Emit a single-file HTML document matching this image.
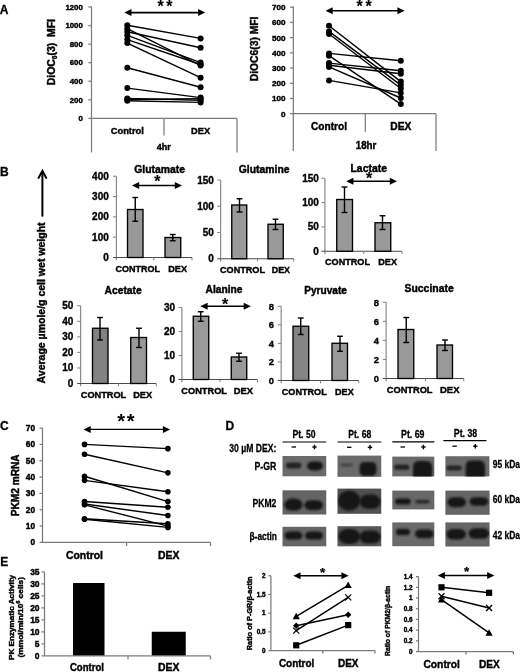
<!DOCTYPE html>
<html lang="en">
<head>
<meta charset="utf-8">
<title>Figure</title>
<style>
html,body{margin:0;padding:0;background:#fff;}
body{width:520px;height:672px;overflow:hidden;}
svg{display:block;font-family:"Liberation Sans", Arial, sans-serif;}
svg text{font-family:"Liberation Sans", Arial, sans-serif;}
</style>
</head>
<body>
<svg width="520" height="672" viewBox="0 0 520 672">
<defs>
<filter id="b1" x="-30%" y="-60%" width="160%" height="220%"><feGaussianBlur stdDeviation="1.3"/></filter>
</defs>
<rect x="0" y="0" width="520" height="672" fill="#fff"/>
<text x="-0.30" y="14.10" font-size="12" text-anchor="start" fill="#000" font-weight="bold" stroke="#000" stroke-width="0.3">A</text>
<text x="55.30" y="85.30" font-size="10.3" text-anchor="start" fill="#000" font-weight="bold" stroke="#000" stroke-width="0.42" textLength="66.30" lengthAdjust="spacingAndGlyphs" transform="rotate(-90 55.30 85.30)">DiOC<tspan font-size="6.5" dy="1.8">6</tspan><tspan dy="-1.8">(3)  MFI</tspan></text>
<line x1="91.50" y1="6.40" x2="91.50" y2="152.50" stroke="#7c7c7c" stroke-width="1.25" />
<line x1="88.30" y1="118.40" x2="237.00" y2="118.40" stroke="#7c7c7c" stroke-width="1.25" />
<line x1="237.00" y1="118.40" x2="237.00" y2="152.50" stroke="#7c7c7c" stroke-width="1.25" />
<line x1="164.00" y1="118.40" x2="164.00" y2="135.50" stroke="#7c7c7c" stroke-width="1.25" />
<text x="82.80" y="121.20" font-size="7.8" text-anchor="end" fill="#000" font-weight="bold" stroke="#000" stroke-width="0.42">0</text>
<line x1="88.30" y1="99.83" x2="91.50" y2="99.83" stroke="#7c7c7c" stroke-width="1.25" />
<text x="82.80" y="102.63" font-size="7.8" text-anchor="end" fill="#000" font-weight="bold" stroke="#000" stroke-width="0.42">200</text>
<line x1="88.30" y1="81.26" x2="91.50" y2="81.26" stroke="#7c7c7c" stroke-width="1.25" />
<text x="82.80" y="84.06" font-size="7.8" text-anchor="end" fill="#000" font-weight="bold" stroke="#000" stroke-width="0.42">400</text>
<line x1="88.30" y1="62.69" x2="91.50" y2="62.69" stroke="#7c7c7c" stroke-width="1.25" />
<text x="82.80" y="65.49" font-size="7.8" text-anchor="end" fill="#000" font-weight="bold" stroke="#000" stroke-width="0.42">600</text>
<line x1="88.30" y1="44.12" x2="91.50" y2="44.12" stroke="#7c7c7c" stroke-width="1.25" />
<text x="82.80" y="46.92" font-size="7.8" text-anchor="end" fill="#000" font-weight="bold" stroke="#000" stroke-width="0.42">800</text>
<line x1="88.30" y1="25.55" x2="91.50" y2="25.55" stroke="#7c7c7c" stroke-width="1.25" />
<text x="82.80" y="28.35" font-size="7.8" text-anchor="end" fill="#000" font-weight="bold" stroke="#000" stroke-width="0.42">1000</text>
<line x1="88.30" y1="6.98" x2="91.50" y2="6.98" stroke="#7c7c7c" stroke-width="1.25" />
<text x="82.80" y="9.78" font-size="7.8" text-anchor="end" fill="#000" font-weight="bold" stroke="#000" stroke-width="0.42">1200</text>
<line x1="127.30" y1="25.30" x2="200.60" y2="38.40" stroke="#000" stroke-width="1.4" />
<line x1="127.30" y1="28.70" x2="200.60" y2="65.60" stroke="#000" stroke-width="1.4" />
<line x1="127.30" y1="31.80" x2="200.60" y2="47.80" stroke="#000" stroke-width="1.4" />
<line x1="127.30" y1="35.30" x2="200.60" y2="62.60" stroke="#000" stroke-width="1.4" />
<line x1="127.30" y1="39.60" x2="200.60" y2="64.50" stroke="#000" stroke-width="1.4" />
<line x1="127.30" y1="43.10" x2="200.60" y2="77.70" stroke="#000" stroke-width="1.4" />
<line x1="127.30" y1="67.70" x2="200.60" y2="87.20" stroke="#000" stroke-width="1.4" />
<line x1="127.30" y1="88.10" x2="200.60" y2="97.60" stroke="#000" stroke-width="1.4" />
<line x1="127.30" y1="98.40" x2="200.60" y2="100.20" stroke="#000" stroke-width="1.4" />
<line x1="127.30" y1="100.70" x2="200.60" y2="102.40" stroke="#000" stroke-width="1.4" />
<line x1="127.30" y1="99.50" x2="200.60" y2="98.60" stroke="#000" stroke-width="1.4" />
<circle cx="127.30" cy="25.30" r="3" fill="#000"/>
<circle cx="200.60" cy="38.40" r="3" fill="#000"/>
<circle cx="127.30" cy="28.70" r="3" fill="#000"/>
<circle cx="200.60" cy="65.60" r="3" fill="#000"/>
<circle cx="127.30" cy="31.80" r="3" fill="#000"/>
<circle cx="200.60" cy="47.80" r="3" fill="#000"/>
<circle cx="127.30" cy="35.30" r="3" fill="#000"/>
<circle cx="200.60" cy="62.60" r="3" fill="#000"/>
<circle cx="127.30" cy="39.60" r="3" fill="#000"/>
<circle cx="200.60" cy="64.50" r="3" fill="#000"/>
<circle cx="127.30" cy="43.10" r="3" fill="#000"/>
<circle cx="200.60" cy="77.70" r="3" fill="#000"/>
<circle cx="127.30" cy="67.70" r="3" fill="#000"/>
<circle cx="200.60" cy="87.20" r="3" fill="#000"/>
<circle cx="127.30" cy="88.10" r="3" fill="#000"/>
<circle cx="200.60" cy="97.60" r="3" fill="#000"/>
<circle cx="127.30" cy="98.40" r="3" fill="#000"/>
<circle cx="200.60" cy="100.20" r="3" fill="#000"/>
<circle cx="127.30" cy="100.70" r="3" fill="#000"/>
<circle cx="200.60" cy="102.40" r="3" fill="#000"/>
<circle cx="127.30" cy="99.50" r="3" fill="#000"/>
<circle cx="200.60" cy="98.60" r="3" fill="#000"/>
<line x1="130.50" y1="12.60" x2="199.10" y2="12.60" stroke="#000" stroke-width="1.6" />
<polygon points="124.30,12.60 131.50,9.10 131.50,16.10" fill="#000"/>
<polygon points="205.30,12.60 198.10,9.10 198.10,16.10" fill="#000"/>
<text x="166.30" y="12.30" font-size="16" text-anchor="middle" fill="#000" font-weight="bold" stroke="#000" stroke-width="0.15" letter-spacing="2.6">**</text>
<text x="127.30" y="133.50" font-size="9.5" text-anchor="middle" fill="#000" font-weight="bold" stroke="#000" stroke-width="0.42" textLength="33.20" lengthAdjust="spacingAndGlyphs">Control</text>
<text x="200.60" y="133.50" font-size="9.5" text-anchor="middle" fill="#000" font-weight="bold" stroke="#000" stroke-width="0.42" textLength="19.00" lengthAdjust="spacingAndGlyphs">DEX</text>
<text x="163.80" y="150.30" font-size="9.5" text-anchor="middle" fill="#000" font-weight="bold" stroke="#000" stroke-width="0.42" textLength="14.00" lengthAdjust="spacingAndGlyphs">4hr</text>
<text x="258.00" y="81.30" font-size="10.3" text-anchor="start" fill="#000" font-weight="bold" stroke="#000" stroke-width="0.42" textLength="64.80" lengthAdjust="spacingAndGlyphs" transform="rotate(-90 258.00 81.30)">DiOC6(3) MFI</text>
<line x1="293.30" y1="6.40" x2="293.30" y2="151.00" stroke="#7c7c7c" stroke-width="1.25" />
<line x1="290.10" y1="113.70" x2="436.00" y2="113.70" stroke="#7c7c7c" stroke-width="1.25" />
<line x1="436.00" y1="113.70" x2="436.00" y2="151.00" stroke="#7c7c7c" stroke-width="1.25" />
<line x1="365.30" y1="113.70" x2="365.30" y2="132.00" stroke="#7c7c7c" stroke-width="1.25" />
<text x="285.60" y="116.60" font-size="8.1" text-anchor="end" fill="#000" font-weight="bold" stroke="#000" stroke-width="0.42">0</text>
<line x1="290.10" y1="98.49" x2="293.30" y2="98.49" stroke="#7c7c7c" stroke-width="1.25" />
<text x="285.60" y="101.39" font-size="8.1" text-anchor="end" fill="#000" font-weight="bold" stroke="#000" stroke-width="0.42">100</text>
<line x1="290.10" y1="83.28" x2="293.30" y2="83.28" stroke="#7c7c7c" stroke-width="1.25" />
<text x="285.60" y="86.18" font-size="8.1" text-anchor="end" fill="#000" font-weight="bold" stroke="#000" stroke-width="0.42">200</text>
<line x1="290.10" y1="68.07" x2="293.30" y2="68.07" stroke="#7c7c7c" stroke-width="1.25" />
<text x="285.60" y="70.97" font-size="8.1" text-anchor="end" fill="#000" font-weight="bold" stroke="#000" stroke-width="0.42">300</text>
<line x1="290.10" y1="52.86" x2="293.30" y2="52.86" stroke="#7c7c7c" stroke-width="1.25" />
<text x="285.60" y="55.76" font-size="8.1" text-anchor="end" fill="#000" font-weight="bold" stroke="#000" stroke-width="0.42">400</text>
<line x1="290.10" y1="37.65" x2="293.30" y2="37.65" stroke="#7c7c7c" stroke-width="1.25" />
<text x="285.60" y="40.55" font-size="8.1" text-anchor="end" fill="#000" font-weight="bold" stroke="#000" stroke-width="0.42">500</text>
<line x1="290.10" y1="22.44" x2="293.30" y2="22.44" stroke="#7c7c7c" stroke-width="1.25" />
<text x="285.60" y="25.34" font-size="8.1" text-anchor="end" fill="#000" font-weight="bold" stroke="#000" stroke-width="0.42">600</text>
<line x1="290.10" y1="7.23" x2="293.30" y2="7.23" stroke="#7c7c7c" stroke-width="1.25" />
<text x="285.60" y="10.13" font-size="8.1" text-anchor="end" fill="#000" font-weight="bold" stroke="#000" stroke-width="0.42">700</text>
<line x1="329.00" y1="25.70" x2="400.80" y2="81.60" stroke="#000" stroke-width="1.4" />
<line x1="329.00" y1="31.40" x2="400.80" y2="85.10" stroke="#000" stroke-width="1.4" />
<line x1="329.00" y1="34.00" x2="400.80" y2="88.50" stroke="#000" stroke-width="1.4" />
<line x1="329.00" y1="53.40" x2="400.80" y2="60.80" stroke="#000" stroke-width="1.4" />
<line x1="329.00" y1="55.70" x2="400.80" y2="104.10" stroke="#000" stroke-width="1.4" />
<line x1="329.00" y1="63.10" x2="400.80" y2="70.70" stroke="#000" stroke-width="1.4" />
<line x1="329.00" y1="65.20" x2="400.80" y2="73.80" stroke="#000" stroke-width="1.4" />
<line x1="329.00" y1="66.90" x2="400.80" y2="98.00" stroke="#000" stroke-width="1.4" />
<line x1="329.00" y1="80.40" x2="400.80" y2="92.90" stroke="#000" stroke-width="1.4" />
<circle cx="329.00" cy="25.70" r="3" fill="#000"/>
<circle cx="400.80" cy="81.60" r="3" fill="#000"/>
<circle cx="329.00" cy="31.40" r="3" fill="#000"/>
<circle cx="400.80" cy="85.10" r="3" fill="#000"/>
<circle cx="329.00" cy="34.00" r="3" fill="#000"/>
<circle cx="400.80" cy="88.50" r="3" fill="#000"/>
<circle cx="329.00" cy="53.40" r="3" fill="#000"/>
<circle cx="400.80" cy="60.80" r="3" fill="#000"/>
<circle cx="329.00" cy="55.70" r="3" fill="#000"/>
<circle cx="400.80" cy="104.10" r="3" fill="#000"/>
<circle cx="329.00" cy="63.10" r="3" fill="#000"/>
<circle cx="400.80" cy="70.70" r="3" fill="#000"/>
<circle cx="329.00" cy="65.20" r="3" fill="#000"/>
<circle cx="400.80" cy="73.80" r="3" fill="#000"/>
<circle cx="329.00" cy="66.90" r="3" fill="#000"/>
<circle cx="400.80" cy="98.00" r="3" fill="#000"/>
<circle cx="329.00" cy="80.40" r="3" fill="#000"/>
<circle cx="400.80" cy="92.90" r="3" fill="#000"/>
<line x1="331.70" y1="10.70" x2="398.40" y2="10.70" stroke="#000" stroke-width="1.6" />
<polygon points="325.50,10.70 332.70,7.20 332.70,14.20" fill="#000"/>
<polygon points="404.60,10.70 397.40,7.20 397.40,14.20" fill="#000"/>
<text x="365.60" y="11.70" font-size="16" text-anchor="middle" fill="#000" font-weight="bold" stroke="#000" stroke-width="0.15" letter-spacing="2.8">**</text>
<text x="329.00" y="129.50" font-size="10.3" text-anchor="middle" fill="#000" font-weight="bold" stroke="#000" stroke-width="0.42" textLength="36.00" lengthAdjust="spacingAndGlyphs">Control</text>
<text x="400.80" y="129.50" font-size="10.3" text-anchor="middle" fill="#000" font-weight="bold" stroke="#000" stroke-width="0.42" textLength="21.00" lengthAdjust="spacingAndGlyphs">DEX</text>
<text x="366.00" y="148.60" font-size="10.3" text-anchor="middle" fill="#000" font-weight="bold" stroke="#000" stroke-width="0.42" textLength="20.50" lengthAdjust="spacingAndGlyphs">18hr</text>
<text x="0.00" y="176.10" font-size="12" text-anchor="start" fill="#000" font-weight="bold" stroke="#000" stroke-width="0.3">B</text>
<line x1="42.40" y1="171.50" x2="42.40" y2="216.60" stroke="#000" stroke-width="2" />
<polyline points="38.2,178.6 42.4,170.8 46.6,178.6" fill="none" stroke="#000" stroke-width="2" stroke-linejoin="miter"/>
<text x="45.40" y="383.40" font-size="10.8" text-anchor="start" fill="#000" font-weight="bold" stroke="#000" stroke-width="0.42" textLength="161.00" lengthAdjust="spacingAndGlyphs" transform="rotate(-90 45.40 383.40)">Average µmole/g cell wet weight</text>
<text x="134.30" y="173.00" font-size="10.4" text-anchor="start" fill="#000" font-weight="bold" stroke="#000" stroke-width="0.42" textLength="50.70" lengthAdjust="spacingAndGlyphs">Glutamate</text>
<line x1="116.40" y1="176.25" x2="116.40" y2="260.30" stroke="#858585" stroke-width="1.15" />
<line x1="113.00" y1="257.50" x2="192.00" y2="257.50" stroke="#4a4a4a" stroke-width="1.1" />
<line x1="153.75" y1="257.50" x2="153.75" y2="260.30" stroke="#858585" stroke-width="1.1" />
<line x1="192.00" y1="257.50" x2="192.00" y2="260.30" stroke="#858585" stroke-width="1.1" />
<text x="108.80" y="261.00" font-size="10" text-anchor="end" fill="#000" font-weight="bold" stroke="#000" stroke-width="0.35">0</text>
<line x1="113.00" y1="237.19" x2="116.40" y2="237.19" stroke="#8a8a8a" stroke-width="1.1" />
<text x="108.80" y="240.69" font-size="10" text-anchor="end" fill="#000" font-weight="bold" stroke="#000" stroke-width="0.35">100</text>
<line x1="113.00" y1="216.88" x2="116.40" y2="216.88" stroke="#8a8a8a" stroke-width="1.1" />
<text x="108.80" y="220.38" font-size="10" text-anchor="end" fill="#000" font-weight="bold" stroke="#000" stroke-width="0.35">200</text>
<line x1="113.00" y1="196.56" x2="116.40" y2="196.56" stroke="#8a8a8a" stroke-width="1.1" />
<text x="108.80" y="200.06" font-size="10" text-anchor="end" fill="#000" font-weight="bold" stroke="#000" stroke-width="0.35">300</text>
<line x1="113.00" y1="176.25" x2="116.40" y2="176.25" stroke="#8a8a8a" stroke-width="1.1" />
<text x="108.80" y="179.75" font-size="10" text-anchor="end" fill="#000" font-weight="bold" stroke="#000" stroke-width="0.35">400</text>
<rect x="127.50" y="209.50" width="15.50" height="48.00" fill="#999" stroke="#000" stroke-width="1.35" />
<line x1="135.25" y1="197.50" x2="135.25" y2="221.25" stroke="#000" stroke-width="1.4" />
<line x1="132.35" y1="197.50" x2="138.15" y2="197.50" stroke="#000" stroke-width="1.4" />
<line x1="132.35" y1="221.25" x2="138.15" y2="221.25" stroke="#000" stroke-width="1.4" />
<rect x="165.00" y="237.50" width="15.75" height="20.00" fill="#999" stroke="#000" stroke-width="1.35" />
<line x1="172.75" y1="234.50" x2="172.75" y2="240.75" stroke="#000" stroke-width="1.4" />
<line x1="169.85" y1="234.50" x2="175.65" y2="234.50" stroke="#000" stroke-width="1.4" />
<line x1="169.85" y1="240.75" x2="175.65" y2="240.75" stroke="#000" stroke-width="1.4" />
<text x="115.50" y="272.00" font-size="9.7" text-anchor="start" fill="#000" font-weight="bold" stroke="#000" stroke-width="0.42" textLength="44.50" lengthAdjust="spacingAndGlyphs">CONTROL</text>
<text x="168.25" y="272.00" font-size="9.7" text-anchor="start" fill="#000" font-weight="bold" stroke="#000" stroke-width="0.42" textLength="18.75" lengthAdjust="spacingAndGlyphs">DEX</text>
<line x1="138.20" y1="185.50" x2="175.80" y2="185.50" stroke="#000" stroke-width="1.6" />
<polygon points="132.00,185.50 139.20,182.00 139.20,189.00" fill="#000"/>
<polygon points="182.00,185.50 174.80,182.00 174.80,189.00" fill="#000"/>
<text x="157.40" y="187.40" font-size="16" text-anchor="middle" fill="#000" font-weight="bold" stroke="#000" stroke-width="0.15">*</text>
<text x="238.75" y="172.50" font-size="10.4" text-anchor="start" fill="#000" font-weight="bold" stroke="#000" stroke-width="0.42" textLength="50.75" lengthAdjust="spacingAndGlyphs">Glutamine</text>
<line x1="220.65" y1="180.00" x2="220.65" y2="261.55" stroke="#858585" stroke-width="1.15" />
<line x1="217.25" y1="258.75" x2="293.75" y2="258.75" stroke="#4a4a4a" stroke-width="1.1" />
<line x1="257.50" y1="258.75" x2="257.50" y2="261.55" stroke="#858585" stroke-width="1.1" />
<line x1="293.75" y1="258.75" x2="293.75" y2="261.55" stroke="#858585" stroke-width="1.1" />
<text x="213.90" y="262.25" font-size="10" text-anchor="end" fill="#000" font-weight="bold" stroke="#000" stroke-width="0.35">0</text>
<line x1="217.25" y1="232.50" x2="220.65" y2="232.50" stroke="#8a8a8a" stroke-width="1.1" />
<text x="213.90" y="236.00" font-size="10" text-anchor="end" fill="#000" font-weight="bold" stroke="#000" stroke-width="0.35">50</text>
<line x1="217.25" y1="206.25" x2="220.65" y2="206.25" stroke="#8a8a8a" stroke-width="1.1" />
<text x="213.90" y="209.75" font-size="10" text-anchor="end" fill="#000" font-weight="bold" stroke="#000" stroke-width="0.35">100</text>
<line x1="217.25" y1="180.00" x2="220.65" y2="180.00" stroke="#8a8a8a" stroke-width="1.1" />
<text x="213.90" y="183.50" font-size="10" text-anchor="end" fill="#000" font-weight="bold" stroke="#000" stroke-width="0.35">150</text>
<rect x="231.75" y="205.00" width="15.00" height="53.75" fill="#999" stroke="#000" stroke-width="1.35" />
<line x1="239.50" y1="198.75" x2="239.50" y2="212.00" stroke="#000" stroke-width="1.4" />
<line x1="236.60" y1="198.75" x2="242.40" y2="198.75" stroke="#000" stroke-width="1.4" />
<line x1="236.60" y1="212.00" x2="242.40" y2="212.00" stroke="#000" stroke-width="1.4" />
<rect x="268.00" y="224.25" width="15.25" height="34.50" fill="#999" stroke="#000" stroke-width="1.35" />
<line x1="275.50" y1="219.25" x2="275.50" y2="229.50" stroke="#000" stroke-width="1.4" />
<line x1="272.60" y1="219.25" x2="278.40" y2="219.25" stroke="#000" stroke-width="1.4" />
<line x1="272.60" y1="229.50" x2="278.40" y2="229.50" stroke="#000" stroke-width="1.4" />
<text x="220.00" y="272.50" font-size="9.7" text-anchor="start" fill="#000" font-weight="bold" stroke="#000" stroke-width="0.42" textLength="45.00" lengthAdjust="spacingAndGlyphs">CONTROL</text>
<text x="271.75" y="272.50" font-size="9.7" text-anchor="start" fill="#000" font-weight="bold" stroke="#000" stroke-width="0.42" textLength="18.25" lengthAdjust="spacingAndGlyphs">DEX</text>
<text x="350.50" y="172.00" font-size="10.4" text-anchor="start" fill="#000" font-weight="bold" stroke="#000" stroke-width="0.42" textLength="36.50" lengthAdjust="spacingAndGlyphs">Lactate</text>
<line x1="324.90" y1="178.25" x2="324.90" y2="254.05" stroke="#858585" stroke-width="1.15" />
<line x1="321.50" y1="251.25" x2="402.00" y2="251.25" stroke="#4a4a4a" stroke-width="1.1" />
<line x1="363.75" y1="251.25" x2="363.75" y2="254.05" stroke="#858585" stroke-width="1.1" />
<line x1="402.00" y1="251.25" x2="402.00" y2="254.05" stroke="#858585" stroke-width="1.1" />
<text x="318.90" y="254.75" font-size="10" text-anchor="end" fill="#000" font-weight="bold" stroke="#000" stroke-width="0.35">0</text>
<line x1="321.50" y1="226.92" x2="324.90" y2="226.92" stroke="#8a8a8a" stroke-width="1.1" />
<text x="318.90" y="230.42" font-size="10" text-anchor="end" fill="#000" font-weight="bold" stroke="#000" stroke-width="0.35">50</text>
<line x1="321.50" y1="202.58" x2="324.90" y2="202.58" stroke="#8a8a8a" stroke-width="1.1" />
<text x="318.90" y="206.08" font-size="10" text-anchor="end" fill="#000" font-weight="bold" stroke="#000" stroke-width="0.35">100</text>
<line x1="321.50" y1="178.25" x2="324.90" y2="178.25" stroke="#8a8a8a" stroke-width="1.1" />
<text x="318.90" y="181.75" font-size="10" text-anchor="end" fill="#000" font-weight="bold" stroke="#000" stroke-width="0.35">150</text>
<rect x="336.75" y="199.50" width="15.75" height="51.75" fill="#999" stroke="#000" stroke-width="1.35" />
<line x1="344.50" y1="187.00" x2="344.50" y2="212.50" stroke="#000" stroke-width="1.4" />
<line x1="341.60" y1="187.00" x2="347.40" y2="187.00" stroke="#000" stroke-width="1.4" />
<line x1="341.60" y1="212.50" x2="347.40" y2="212.50" stroke="#000" stroke-width="1.4" />
<rect x="375.00" y="222.75" width="15.75" height="28.50" fill="#999" stroke="#000" stroke-width="1.35" />
<line x1="382.50" y1="215.75" x2="382.50" y2="229.50" stroke="#000" stroke-width="1.4" />
<line x1="379.60" y1="215.75" x2="385.40" y2="215.75" stroke="#000" stroke-width="1.4" />
<line x1="379.60" y1="229.50" x2="385.40" y2="229.50" stroke="#000" stroke-width="1.4" />
<text x="325.00" y="265.00" font-size="9.7" text-anchor="start" fill="#000" font-weight="bold" stroke="#000" stroke-width="0.42" textLength="45.00" lengthAdjust="spacingAndGlyphs">CONTROL</text>
<text x="378.25" y="265.00" font-size="9.7" text-anchor="start" fill="#000" font-weight="bold" stroke="#000" stroke-width="0.42" textLength="18.75" lengthAdjust="spacingAndGlyphs">DEX</text>
<line x1="352.45" y1="181.25" x2="390.80" y2="181.25" stroke="#000" stroke-width="1.6" />
<polygon points="346.25,181.25 353.45,177.75 353.45,184.75" fill="#000"/>
<polygon points="397.00,181.25 389.80,177.75 389.80,184.75" fill="#000"/>
<text x="369.20" y="183.50" font-size="16" text-anchor="middle" fill="#000" font-weight="bold" stroke="#000" stroke-width="0.15">*</text>
<text x="104.50" y="294.25" font-size="10.4" text-anchor="start" fill="#000" font-weight="bold" stroke="#000" stroke-width="0.42" textLength="37.25" lengthAdjust="spacingAndGlyphs">Acetate</text>
<line x1="80.65" y1="305.75" x2="80.65" y2="386.30" stroke="#858585" stroke-width="1.15" />
<line x1="77.25" y1="383.50" x2="156.25" y2="383.50" stroke="#4a4a4a" stroke-width="1.1" />
<line x1="118.50" y1="383.50" x2="118.50" y2="386.30" stroke="#858585" stroke-width="1.1" />
<line x1="156.25" y1="383.50" x2="156.25" y2="386.30" stroke="#858585" stroke-width="1.1" />
<text x="73.40" y="387.00" font-size="10" text-anchor="end" fill="#000" font-weight="bold" stroke="#000" stroke-width="0.35">0</text>
<line x1="77.25" y1="367.95" x2="80.65" y2="367.95" stroke="#8a8a8a" stroke-width="1.1" />
<text x="73.40" y="371.45" font-size="10" text-anchor="end" fill="#000" font-weight="bold" stroke="#000" stroke-width="0.35">10</text>
<line x1="77.25" y1="352.40" x2="80.65" y2="352.40" stroke="#8a8a8a" stroke-width="1.1" />
<text x="73.40" y="355.90" font-size="10" text-anchor="end" fill="#000" font-weight="bold" stroke="#000" stroke-width="0.35">20</text>
<line x1="77.25" y1="336.85" x2="80.65" y2="336.85" stroke="#8a8a8a" stroke-width="1.1" />
<text x="73.40" y="340.35" font-size="10" text-anchor="end" fill="#000" font-weight="bold" stroke="#000" stroke-width="0.35">30</text>
<line x1="77.25" y1="321.30" x2="80.65" y2="321.30" stroke="#8a8a8a" stroke-width="1.1" />
<text x="73.40" y="324.80" font-size="10" text-anchor="end" fill="#000" font-weight="bold" stroke="#000" stroke-width="0.35">40</text>
<line x1="77.25" y1="305.75" x2="80.65" y2="305.75" stroke="#8a8a8a" stroke-width="1.1" />
<text x="73.40" y="309.25" font-size="10" text-anchor="end" fill="#000" font-weight="bold" stroke="#000" stroke-width="0.35">50</text>
<rect x="92.50" y="328.25" width="15.50" height="55.25" fill="#828282" stroke="#000" stroke-width="1.35" />
<line x1="100.00" y1="317.50" x2="100.00" y2="340.00" stroke="#000" stroke-width="1.4" />
<line x1="97.10" y1="317.50" x2="102.90" y2="317.50" stroke="#000" stroke-width="1.4" />
<line x1="97.10" y1="340.00" x2="102.90" y2="340.00" stroke="#000" stroke-width="1.4" />
<rect x="130.75" y="337.50" width="15.75" height="46.00" fill="#999" stroke="#000" stroke-width="1.35" />
<line x1="139.00" y1="328.25" x2="139.00" y2="347.50" stroke="#000" stroke-width="1.4" />
<line x1="136.10" y1="328.25" x2="141.90" y2="328.25" stroke="#000" stroke-width="1.4" />
<line x1="136.10" y1="347.50" x2="141.90" y2="347.50" stroke="#000" stroke-width="1.4" />
<text x="80.75" y="398.00" font-size="9.7" text-anchor="start" fill="#000" font-weight="bold" stroke="#000" stroke-width="0.42" textLength="45.50" lengthAdjust="spacingAndGlyphs">CONTROL</text>
<text x="133.25" y="398.00" font-size="9.7" text-anchor="start" fill="#000" font-weight="bold" stroke="#000" stroke-width="0.42" textLength="18.75" lengthAdjust="spacingAndGlyphs">DEX</text>
<text x="205.50" y="293.10" font-size="10.4" text-anchor="start" fill="#000" font-weight="bold" stroke="#000" stroke-width="0.42" textLength="37.00" lengthAdjust="spacingAndGlyphs">Alanine</text>
<line x1="181.90" y1="307.50" x2="181.90" y2="382.30" stroke="#858585" stroke-width="1.15" />
<line x1="178.50" y1="379.50" x2="257.50" y2="379.50" stroke="#4a4a4a" stroke-width="1.1" />
<line x1="220.00" y1="379.50" x2="220.00" y2="382.30" stroke="#858585" stroke-width="1.1" />
<line x1="257.50" y1="379.50" x2="257.50" y2="382.30" stroke="#858585" stroke-width="1.1" />
<text x="175.10" y="383.00" font-size="10" text-anchor="end" fill="#000" font-weight="bold" stroke="#000" stroke-width="0.35">0</text>
<line x1="178.50" y1="355.50" x2="181.90" y2="355.50" stroke="#8a8a8a" stroke-width="1.1" />
<text x="175.10" y="359.00" font-size="10" text-anchor="end" fill="#000" font-weight="bold" stroke="#000" stroke-width="0.35">10</text>
<line x1="178.50" y1="331.50" x2="181.90" y2="331.50" stroke="#8a8a8a" stroke-width="1.1" />
<text x="175.10" y="335.00" font-size="10" text-anchor="end" fill="#000" font-weight="bold" stroke="#000" stroke-width="0.35">20</text>
<line x1="178.50" y1="307.50" x2="181.90" y2="307.50" stroke="#8a8a8a" stroke-width="1.1" />
<text x="175.10" y="311.00" font-size="10" text-anchor="end" fill="#000" font-weight="bold" stroke="#000" stroke-width="0.35">30</text>
<rect x="193.25" y="316.25" width="15.50" height="63.25" fill="#999" stroke="#000" stroke-width="1.35" />
<line x1="200.75" y1="311.75" x2="200.75" y2="321.25" stroke="#000" stroke-width="1.4" />
<line x1="197.85" y1="311.75" x2="203.65" y2="311.75" stroke="#000" stroke-width="1.4" />
<line x1="197.85" y1="321.25" x2="203.65" y2="321.25" stroke="#000" stroke-width="1.4" />
<rect x="231.25" y="357.00" width="15.50" height="22.50" fill="#999" stroke="#000" stroke-width="1.35" />
<line x1="239.00" y1="353.25" x2="239.00" y2="361.25" stroke="#000" stroke-width="1.4" />
<line x1="236.10" y1="353.25" x2="241.90" y2="353.25" stroke="#000" stroke-width="1.4" />
<line x1="236.10" y1="361.25" x2="241.90" y2="361.25" stroke="#000" stroke-width="1.4" />
<text x="181.25" y="393.75" font-size="9.7" text-anchor="start" fill="#000" font-weight="bold" stroke="#000" stroke-width="0.42" textLength="45.75" lengthAdjust="spacingAndGlyphs">CONTROL</text>
<text x="233.75" y="393.75" font-size="9.7" text-anchor="start" fill="#000" font-weight="bold" stroke="#000" stroke-width="0.42" textLength="19.25" lengthAdjust="spacingAndGlyphs">DEX</text>
<line x1="206.60" y1="306.30" x2="244.70" y2="306.30" stroke="#000" stroke-width="1.6" />
<polygon points="200.40,306.30 207.60,302.80 207.60,309.80" fill="#000"/>
<polygon points="250.90,306.30 243.70,302.80 243.70,309.80" fill="#000"/>
<text x="225.20" y="309.60" font-size="16" text-anchor="middle" fill="#000" font-weight="bold" stroke="#000" stroke-width="0.15">*</text>
<text x="304.25" y="293.75" font-size="10.4" text-anchor="start" fill="#000" font-weight="bold" stroke="#000" stroke-width="0.42" textLength="42.75" lengthAdjust="spacingAndGlyphs">Pyruvate</text>
<line x1="281.15" y1="306.25" x2="281.15" y2="383.30" stroke="#858585" stroke-width="1.15" />
<line x1="277.75" y1="380.50" x2="358.75" y2="380.50" stroke="#4a4a4a" stroke-width="1.1" />
<line x1="320.50" y1="380.50" x2="320.50" y2="383.30" stroke="#858585" stroke-width="1.1" />
<line x1="358.75" y1="380.50" x2="358.75" y2="383.30" stroke="#858585" stroke-width="1.1" />
<text x="273.90" y="384.00" font-size="9.4" text-anchor="end" fill="#000" font-weight="bold" stroke="#000" stroke-width="0.35">0</text>
<line x1="277.75" y1="361.94" x2="281.15" y2="361.94" stroke="#8a8a8a" stroke-width="1.1" />
<text x="273.90" y="365.44" font-size="9.4" text-anchor="end" fill="#000" font-weight="bold" stroke="#000" stroke-width="0.35">2</text>
<line x1="277.75" y1="343.38" x2="281.15" y2="343.38" stroke="#8a8a8a" stroke-width="1.1" />
<text x="273.90" y="346.88" font-size="9.4" text-anchor="end" fill="#000" font-weight="bold" stroke="#000" stroke-width="0.35">4</text>
<line x1="277.75" y1="324.81" x2="281.15" y2="324.81" stroke="#8a8a8a" stroke-width="1.1" />
<text x="273.90" y="328.31" font-size="9.4" text-anchor="end" fill="#000" font-weight="bold" stroke="#000" stroke-width="0.35">6</text>
<line x1="277.75" y1="306.25" x2="281.15" y2="306.25" stroke="#8a8a8a" stroke-width="1.1" />
<text x="273.90" y="309.75" font-size="9.4" text-anchor="end" fill="#000" font-weight="bold" stroke="#000" stroke-width="0.35">8</text>
<rect x="293.00" y="326.25" width="15.75" height="54.25" fill="#858585" stroke="#000" stroke-width="1.35" />
<line x1="300.75" y1="318.00" x2="300.75" y2="334.50" stroke="#000" stroke-width="1.4" />
<line x1="297.85" y1="318.00" x2="303.65" y2="318.00" stroke="#000" stroke-width="1.4" />
<line x1="297.85" y1="334.50" x2="303.65" y2="334.50" stroke="#000" stroke-width="1.4" />
<rect x="332.00" y="343.25" width="15.50" height="37.25" fill="#999" stroke="#000" stroke-width="1.35" />
<line x1="340.00" y1="336.25" x2="340.00" y2="351.25" stroke="#000" stroke-width="1.4" />
<line x1="337.10" y1="336.25" x2="342.90" y2="336.25" stroke="#000" stroke-width="1.4" />
<line x1="337.10" y1="351.25" x2="342.90" y2="351.25" stroke="#000" stroke-width="1.4" />
<text x="281.75" y="394.50" font-size="9.7" text-anchor="start" fill="#000" font-weight="bold" stroke="#000" stroke-width="0.42" textLength="45.00" lengthAdjust="spacingAndGlyphs">CONTROL</text>
<text x="335.00" y="394.50" font-size="9.7" text-anchor="start" fill="#000" font-weight="bold" stroke="#000" stroke-width="0.42" textLength="18.75" lengthAdjust="spacingAndGlyphs">DEX</text>
<text x="404.50" y="292.00" font-size="10.4" text-anchor="start" fill="#000" font-weight="bold" stroke="#000" stroke-width="0.42" textLength="49.25" lengthAdjust="spacingAndGlyphs">Succinate</text>
<line x1="386.15" y1="302.25" x2="386.15" y2="381.30" stroke="#858585" stroke-width="1.15" />
<line x1="382.75" y1="378.50" x2="463.75" y2="378.50" stroke="#4a4a4a" stroke-width="1.1" />
<line x1="425.50" y1="378.50" x2="425.50" y2="381.30" stroke="#858585" stroke-width="1.1" />
<line x1="463.75" y1="378.50" x2="463.75" y2="381.30" stroke="#858585" stroke-width="1.1" />
<text x="378.90" y="382.00" font-size="9.4" text-anchor="end" fill="#000" font-weight="bold" stroke="#000" stroke-width="0.35">0</text>
<line x1="382.75" y1="359.44" x2="386.15" y2="359.44" stroke="#8a8a8a" stroke-width="1.1" />
<text x="378.90" y="362.94" font-size="9.4" text-anchor="end" fill="#000" font-weight="bold" stroke="#000" stroke-width="0.35">2</text>
<line x1="382.75" y1="340.38" x2="386.15" y2="340.38" stroke="#8a8a8a" stroke-width="1.1" />
<text x="378.90" y="343.88" font-size="9.4" text-anchor="end" fill="#000" font-weight="bold" stroke="#000" stroke-width="0.35">4</text>
<line x1="382.75" y1="321.31" x2="386.15" y2="321.31" stroke="#8a8a8a" stroke-width="1.1" />
<text x="378.90" y="324.81" font-size="9.4" text-anchor="end" fill="#000" font-weight="bold" stroke="#000" stroke-width="0.35">6</text>
<line x1="382.75" y1="302.25" x2="386.15" y2="302.25" stroke="#8a8a8a" stroke-width="1.1" />
<text x="378.90" y="305.75" font-size="9.4" text-anchor="end" fill="#000" font-weight="bold" stroke="#000" stroke-width="0.35">8</text>
<rect x="398.00" y="329.50" width="15.75" height="49.00" fill="#999" stroke="#000" stroke-width="1.35" />
<line x1="406.25" y1="317.50" x2="406.25" y2="342.50" stroke="#000" stroke-width="1.4" />
<line x1="403.35" y1="317.50" x2="409.15" y2="317.50" stroke="#000" stroke-width="1.4" />
<line x1="403.35" y1="342.50" x2="409.15" y2="342.50" stroke="#000" stroke-width="1.4" />
<rect x="437.00" y="345.00" width="15.50" height="33.50" fill="#999" stroke="#000" stroke-width="1.35" />
<line x1="445.00" y1="340.00" x2="445.00" y2="350.50" stroke="#000" stroke-width="1.4" />
<line x1="442.10" y1="340.00" x2="447.90" y2="340.00" stroke="#000" stroke-width="1.4" />
<line x1="442.10" y1="350.50" x2="447.90" y2="350.50" stroke="#000" stroke-width="1.4" />
<text x="386.75" y="392.50" font-size="9.7" text-anchor="start" fill="#000" font-weight="bold" stroke="#000" stroke-width="0.42" textLength="45.75" lengthAdjust="spacingAndGlyphs">CONTROL</text>
<text x="440.00" y="392.50" font-size="9.7" text-anchor="start" fill="#000" font-weight="bold" stroke="#000" stroke-width="0.42" textLength="19.50" lengthAdjust="spacingAndGlyphs">DEX</text>
<text x="0.00" y="429.50" font-size="12" text-anchor="start" fill="#000" font-weight="bold" stroke="#000" stroke-width="0.3">C</text>
<text x="18.70" y="516.30" font-size="10.2" text-anchor="start" fill="#000" font-weight="bold" stroke="#000" stroke-width="0.42" textLength="62.00" lengthAdjust="spacingAndGlyphs" transform="rotate(-90 18.70 516.30)">PKM2 mRNA</text>
<line x1="42.50" y1="428.00" x2="42.50" y2="542.40" stroke="#7c7c7c" stroke-width="1.25" />
<line x1="39.50" y1="542.40" x2="210.50" y2="542.40" stroke="#7c7c7c" stroke-width="1.25" />
<line x1="126.60" y1="542.40" x2="126.60" y2="546.00" stroke="#7c7c7c" stroke-width="1.25" />
<line x1="210.50" y1="542.40" x2="210.50" y2="546.00" stroke="#7c7c7c" stroke-width="1.25" />
<text x="35.20" y="545.40" font-size="8.4" text-anchor="end" fill="#000" font-weight="bold" stroke="#000" stroke-width="0.42">0</text>
<line x1="39.50" y1="526.07" x2="42.50" y2="526.07" stroke="#7c7c7c" stroke-width="1.25" />
<text x="35.20" y="529.07" font-size="8.4" text-anchor="end" fill="#000" font-weight="bold" stroke="#000" stroke-width="0.42">10</text>
<line x1="39.50" y1="509.74" x2="42.50" y2="509.74" stroke="#7c7c7c" stroke-width="1.25" />
<text x="35.20" y="512.74" font-size="8.4" text-anchor="end" fill="#000" font-weight="bold" stroke="#000" stroke-width="0.42">20</text>
<line x1="39.50" y1="493.41" x2="42.50" y2="493.41" stroke="#7c7c7c" stroke-width="1.25" />
<text x="35.20" y="496.41" font-size="8.4" text-anchor="end" fill="#000" font-weight="bold" stroke="#000" stroke-width="0.42">30</text>
<line x1="39.50" y1="477.08" x2="42.50" y2="477.08" stroke="#7c7c7c" stroke-width="1.25" />
<text x="35.20" y="480.08" font-size="8.4" text-anchor="end" fill="#000" font-weight="bold" stroke="#000" stroke-width="0.42">40</text>
<line x1="39.50" y1="460.75" x2="42.50" y2="460.75" stroke="#7c7c7c" stroke-width="1.25" />
<text x="35.20" y="463.75" font-size="8.4" text-anchor="end" fill="#000" font-weight="bold" stroke="#000" stroke-width="0.42">50</text>
<line x1="39.50" y1="444.42" x2="42.50" y2="444.42" stroke="#7c7c7c" stroke-width="1.25" />
<text x="35.20" y="447.42" font-size="8.4" text-anchor="end" fill="#000" font-weight="bold" stroke="#000" stroke-width="0.42">60</text>
<line x1="39.50" y1="428.09" x2="42.50" y2="428.09" stroke="#7c7c7c" stroke-width="1.25" />
<text x="35.20" y="431.09" font-size="8.4" text-anchor="end" fill="#000" font-weight="bold" stroke="#000" stroke-width="0.42">70</text>
<line x1="84.50" y1="444.42" x2="167.90" y2="448.67" stroke="#000" stroke-width="1.4" />
<line x1="84.50" y1="454.22" x2="167.90" y2="472.83" stroke="#000" stroke-width="1.4" />
<line x1="84.50" y1="476.26" x2="167.90" y2="501.57" stroke="#000" stroke-width="1.4" />
<line x1="84.50" y1="480.35" x2="167.90" y2="491.78" stroke="#000" stroke-width="1.4" />
<line x1="84.50" y1="501.57" x2="167.90" y2="507.29" stroke="#000" stroke-width="1.4" />
<line x1="84.50" y1="504.02" x2="167.90" y2="515.46" stroke="#000" stroke-width="1.4" />
<line x1="84.50" y1="504.84" x2="167.90" y2="526.07" stroke="#000" stroke-width="1.4" />
<line x1="84.50" y1="518.72" x2="167.90" y2="523.78" stroke="#000" stroke-width="1.4" />
<line x1="84.50" y1="519.21" x2="167.90" y2="527.38" stroke="#000" stroke-width="1.4" />
<circle cx="84.50" cy="444.42" r="2.8" fill="#000"/>
<circle cx="167.90" cy="448.67" r="2.8" fill="#000"/>
<circle cx="84.50" cy="454.22" r="2.8" fill="#000"/>
<circle cx="167.90" cy="472.83" r="2.8" fill="#000"/>
<circle cx="84.50" cy="476.26" r="2.8" fill="#000"/>
<circle cx="167.90" cy="501.57" r="2.8" fill="#000"/>
<circle cx="84.50" cy="480.35" r="2.8" fill="#000"/>
<circle cx="167.90" cy="491.78" r="2.8" fill="#000"/>
<circle cx="84.50" cy="501.57" r="2.8" fill="#000"/>
<circle cx="167.90" cy="507.29" r="2.8" fill="#000"/>
<circle cx="84.50" cy="504.02" r="2.8" fill="#000"/>
<circle cx="167.90" cy="515.46" r="2.8" fill="#000"/>
<circle cx="84.50" cy="504.84" r="2.8" fill="#000"/>
<circle cx="167.90" cy="526.07" r="2.8" fill="#000"/>
<circle cx="84.50" cy="518.72" r="2.8" fill="#000"/>
<circle cx="167.90" cy="523.78" r="2.8" fill="#000"/>
<circle cx="84.50" cy="519.21" r="2.8" fill="#000"/>
<circle cx="167.90" cy="527.38" r="2.8" fill="#000"/>
<line x1="89.70" y1="429.40" x2="163.90" y2="429.40" stroke="#000" stroke-width="1.4" />
<polygon points="83.50,429.40 90.70,425.90 90.70,432.90" fill="#000"/>
<polygon points="170.10,429.40 162.90,425.90 162.90,432.90" fill="#000"/>
<text x="126.80" y="428.30" font-size="20" text-anchor="middle" fill="#000" font-weight="bold" stroke="#000" stroke-width="0" letter-spacing="1.7">**</text>
<text x="84.50" y="558.70" font-size="10.4" text-anchor="middle" fill="#000" font-weight="bold" stroke="#000" stroke-width="0.42" textLength="37.00" lengthAdjust="spacingAndGlyphs">Control</text>
<text x="168.70" y="558.70" font-size="10.4" text-anchor="middle" fill="#000" font-weight="bold" stroke="#000" stroke-width="0.42" textLength="21.40" lengthAdjust="spacingAndGlyphs">DEX</text>
<text x="0.30" y="566.00" font-size="12" text-anchor="start" fill="#000" font-weight="bold" stroke="#000" stroke-width="0.3">E</text>
<text x="14.20" y="660.00" font-size="8" text-anchor="start" fill="#000" font-weight="bold" stroke="#000" stroke-width="0.42" textLength="85.00" lengthAdjust="spacingAndGlyphs" transform="rotate(-90 14.20 660.00)">PK Enzymatic Activity</text>
<text x="23.40" y="657.50" font-size="8" text-anchor="start" fill="#000" font-weight="bold" stroke="#000" stroke-width="0.42" textLength="80.50" lengthAdjust="spacingAndGlyphs" transform="rotate(-90 23.40 657.50)">(mmol/min/10<tspan font-size="5" dy="-3">6</tspan><tspan dy="3"> cells)</tspan></text>
<rect x="73.00" y="583.00" width="31.50" height="72.90" fill="#000" stroke="none" stroke-width="1" />
<rect x="151.75" y="631.75" width="34.00" height="24.15" fill="#000" stroke="none" stroke-width="1" />
<line x1="44.50" y1="572.00" x2="44.50" y2="655.90" stroke="#7c7c7c" stroke-width="1.25" />
<line x1="41.50" y1="655.90" x2="210.50" y2="655.90" stroke="#7c7c7c" stroke-width="1.25" />
<line x1="128.00" y1="655.90" x2="128.00" y2="659.30" stroke="#7c7c7c" stroke-width="1.25" />
<line x1="210.50" y1="655.90" x2="210.50" y2="659.30" stroke="#7c7c7c" stroke-width="1.25" />
<text x="39.60" y="658.90" font-size="8.5" text-anchor="end" fill="#000" font-weight="bold" stroke="#000" stroke-width="0.42">0</text>
<line x1="41.50" y1="643.90" x2="44.50" y2="643.90" stroke="#7c7c7c" stroke-width="1.25" />
<text x="39.60" y="646.90" font-size="8.5" text-anchor="end" fill="#000" font-weight="bold" stroke="#000" stroke-width="0.42">5</text>
<line x1="41.50" y1="631.90" x2="44.50" y2="631.90" stroke="#7c7c7c" stroke-width="1.25" />
<text x="39.60" y="634.90" font-size="8.5" text-anchor="end" fill="#000" font-weight="bold" stroke="#000" stroke-width="0.42">10</text>
<line x1="41.50" y1="619.90" x2="44.50" y2="619.90" stroke="#7c7c7c" stroke-width="1.25" />
<text x="39.60" y="622.90" font-size="8.5" text-anchor="end" fill="#000" font-weight="bold" stroke="#000" stroke-width="0.42">15</text>
<line x1="41.50" y1="607.90" x2="44.50" y2="607.90" stroke="#7c7c7c" stroke-width="1.25" />
<text x="39.60" y="610.90" font-size="8.5" text-anchor="end" fill="#000" font-weight="bold" stroke="#000" stroke-width="0.42">20</text>
<line x1="41.50" y1="595.90" x2="44.50" y2="595.90" stroke="#7c7c7c" stroke-width="1.25" />
<text x="39.60" y="598.90" font-size="8.5" text-anchor="end" fill="#000" font-weight="bold" stroke="#000" stroke-width="0.42">25</text>
<line x1="41.50" y1="583.90" x2="44.50" y2="583.90" stroke="#7c7c7c" stroke-width="1.25" />
<text x="39.60" y="586.90" font-size="8.5" text-anchor="end" fill="#000" font-weight="bold" stroke="#000" stroke-width="0.42">30</text>
<line x1="41.50" y1="571.90" x2="44.50" y2="571.90" stroke="#7c7c7c" stroke-width="1.25" />
<text x="39.60" y="574.90" font-size="8.5" text-anchor="end" fill="#000" font-weight="bold" stroke="#000" stroke-width="0.42">35</text>
<text x="86.90" y="670.60" font-size="10.2" text-anchor="middle" fill="#000" font-weight="bold" stroke="#000" stroke-width="0.42" textLength="34.00" lengthAdjust="spacingAndGlyphs">Control</text>
<text x="168.70" y="670.90" font-size="10.2" text-anchor="middle" fill="#000" font-weight="bold" stroke="#000" stroke-width="0.42" textLength="21.40" lengthAdjust="spacingAndGlyphs">DEX</text>
<text x="225.40" y="429.50" font-size="12" text-anchor="start" fill="#000" font-weight="bold" stroke="#000" stroke-width="0.3">D</text>
<text x="229.30" y="451.50" font-size="11.3" text-anchor="start" fill="#000" font-weight="bold" stroke="#000" stroke-width="0.3" textLength="47.00" lengthAdjust="spacingAndGlyphs">30 µM DEX:</text>
<text x="276.30" y="469.50" font-size="11.3" text-anchor="end" fill="#000" font-weight="bold" stroke="#000" stroke-width="0.3" textLength="21.80" lengthAdjust="spacingAndGlyphs">P-GR</text>
<text x="276.30" y="507.00" font-size="11.3" text-anchor="end" fill="#000" font-weight="bold" stroke="#000" stroke-width="0.3" textLength="23.80" lengthAdjust="spacingAndGlyphs">PKM2</text>
<text x="277.00" y="539.70" font-size="11.3" text-anchor="end" fill="#000" font-weight="bold" stroke="#000" stroke-width="0.3" textLength="27.50" lengthAdjust="spacingAndGlyphs">β-actin</text>
<text x="292.50" y="438.40" font-size="11.3" text-anchor="start" fill="#000" font-weight="bold" stroke="#000" stroke-width="0.3" textLength="23.00" lengthAdjust="spacingAndGlyphs">Pt. 50</text>
<line x1="282.50" y1="442.00" x2="326.25" y2="442.00" stroke="#000" stroke-width="1.1" />
<line x1="291.55" y1="447.00" x2="295.95" y2="447.00" stroke="#000" stroke-width="1.3" />
<line x1="312.30" y1="447.00" x2="316.70" y2="447.00" stroke="#000" stroke-width="1.4" />
<line x1="314.50" y1="444.70" x2="314.50" y2="449.30" stroke="#000" stroke-width="1.4" />
<text x="348.25" y="438.40" font-size="11.3" text-anchor="start" fill="#000" font-weight="bold" stroke="#000" stroke-width="0.3" textLength="23.00" lengthAdjust="spacingAndGlyphs">Pt. 68</text>
<line x1="337.50" y1="442.00" x2="381.25" y2="442.00" stroke="#000" stroke-width="1.1" />
<line x1="347.05" y1="447.30" x2="351.45" y2="447.30" stroke="#000" stroke-width="1.3" />
<line x1="367.80" y1="447.30" x2="372.20" y2="447.30" stroke="#000" stroke-width="1.4" />
<line x1="370.00" y1="445.00" x2="370.00" y2="449.60" stroke="#000" stroke-width="1.4" />
<text x="401.10" y="438.40" font-size="11.3" text-anchor="start" fill="#000" font-weight="bold" stroke="#000" stroke-width="0.3" textLength="23.40" lengthAdjust="spacingAndGlyphs">Pt. 69</text>
<line x1="392.30" y1="441.90" x2="434.30" y2="441.90" stroke="#000" stroke-width="1.1" />
<line x1="400.50" y1="447.00" x2="404.90" y2="447.00" stroke="#000" stroke-width="1.3" />
<line x1="421.20" y1="447.00" x2="425.60" y2="447.00" stroke="#000" stroke-width="1.4" />
<line x1="423.40" y1="444.70" x2="423.40" y2="449.30" stroke="#000" stroke-width="1.4" />
<text x="453.80" y="437.20" font-size="11.3" text-anchor="start" fill="#000" font-weight="bold" stroke="#000" stroke-width="0.3" textLength="23.40" lengthAdjust="spacingAndGlyphs">Pt. 38</text>
<line x1="443.40" y1="440.60" x2="486.40" y2="440.60" stroke="#000" stroke-width="1.1" />
<line x1="452.40" y1="446.20" x2="456.80" y2="446.20" stroke="#000" stroke-width="1.3" />
<line x1="473.10" y1="446.20" x2="477.50" y2="446.20" stroke="#000" stroke-width="1.4" />
<line x1="475.30" y1="443.90" x2="475.30" y2="448.50" stroke="#000" stroke-width="1.4" />
<clipPath id="c1"><rect x="282.50" y="456.00" width="43.75" height="20.30"/></clipPath>
<rect x="282.50" y="456.00" width="43.75" height="20.30" fill="#6b6b6b" stroke="none" stroke-width="1" />
<g clip-path="url(#c1)">
<rect x="286.00" y="462.60" width="15.40" height="5.80" rx="3.60" ry="2.90" fill="#222" filter="url(#b1)"/>
<rect x="307.00" y="461.50" width="16.00" height="8.90" rx="5.52" ry="4.45" fill="#181818" filter="url(#b1)"/>
</g>
<clipPath id="c2"><rect x="282.50" y="490.30" width="43.75" height="24.20"/></clipPath>
<rect x="282.50" y="490.30" width="43.75" height="24.20" fill="#656565" stroke="none" stroke-width="1" />
<g clip-path="url(#c2)">
<rect x="284.20" y="498.60" width="18.40" height="12.20" rx="7.56" ry="6.10" fill="#181818" filter="url(#b1)"/>
<rect x="304.40" y="500.30" width="18.60" height="10.00" rx="6.20" ry="5.00" fill="#181818" filter="url(#b1)"/>
</g>
<clipPath id="c3"><rect x="282.50" y="526.80" width="43.75" height="19.50"/></clipPath>
<rect x="282.50" y="526.80" width="43.75" height="19.50" fill="#666" stroke="none" stroke-width="1" />
<g clip-path="url(#c3)">
<rect x="284.60" y="531.50" width="17.80" height="8.10" rx="5.02" ry="4.05" fill="#181818" filter="url(#b1)"/>
<rect x="305.00" y="531.50" width="18.00" height="8.10" rx="5.02" ry="4.05" fill="#181818" filter="url(#b1)"/>
</g>
<clipPath id="c4"><rect x="337.50" y="455.60" width="43.75" height="21.20"/></clipPath>
<rect x="337.50" y="455.60" width="43.75" height="21.20" fill="#6a6a6a" stroke="none" stroke-width="1" />
<g clip-path="url(#c4)">
<rect x="340.00" y="463.40" width="13.00" height="3.40" rx="2.11" ry="1.70" fill="#444" filter="url(#b1)"/>
<rect x="359.60" y="462.00" width="16.80" height="14.00" rx="4.50" ry="4.50" fill="#181818" filter="url(#b1)"/>
</g>
<clipPath id="c5"><rect x="337.50" y="488.60" width="43.75" height="25.20"/></clipPath>
<rect x="337.50" y="488.60" width="43.75" height="25.20" fill="#515151" stroke="none" stroke-width="1" />
<g clip-path="url(#c5)">
<rect x="338.00" y="490.60" width="22.20" height="20.20" rx="11.10" ry="10.10" fill="#181818" filter="url(#b1)"/>
<rect x="359.40" y="494.60" width="21.40" height="14.20" rx="8.80" ry="7.10" fill="#181818" filter="url(#b1)"/>
</g>
<clipPath id="c6"><rect x="337.50" y="526.20" width="43.75" height="20.10"/></clipPath>
<rect x="337.50" y="526.20" width="43.75" height="20.10" fill="#585858" stroke="none" stroke-width="1" />
<g clip-path="url(#c6)">
<rect x="338.20" y="529.00" width="22.00" height="15.00" rx="9.30" ry="7.50" fill="#181818" filter="url(#b1)"/>
<rect x="359.40" y="530.60" width="21.40" height="13.00" rx="8.06" ry="6.50" fill="#181818" filter="url(#b1)"/>
</g>
<clipPath id="c7"><rect x="392.30" y="456.60" width="42.00" height="19.80"/></clipPath>
<rect x="392.30" y="456.60" width="42.00" height="19.80" fill="#6a6a6a" stroke="none" stroke-width="1" />
<g clip-path="url(#c7)">
<rect x="394.00" y="464.60" width="15.40" height="5.20" rx="3.22" ry="2.60" fill="#222" filter="url(#b1)"/>
<rect x="413.00" y="461.00" width="19.20" height="20.00" rx="5.50" ry="5.50" fill="#161616" filter="url(#b1)"/>
</g>
<clipPath id="c8"><rect x="392.30" y="490.60" width="42.00" height="18.80"/></clipPath>
<rect x="392.30" y="490.60" width="42.00" height="18.80" fill="#686868" stroke="none" stroke-width="1" />
<g clip-path="url(#c8)">
<rect x="395.00" y="498.40" width="15.80" height="6.20" rx="3.84" ry="3.10" fill="#181818" filter="url(#b1)"/>
<rect x="415.20" y="500.00" width="14.40" height="3.60" rx="2.23" ry="1.80" fill="#262626" filter="url(#b1)"/>
</g>
<clipPath id="c9"><rect x="392.30" y="522.40" width="42.00" height="23.80"/></clipPath>
<rect x="392.30" y="522.40" width="42.00" height="23.80" fill="#6a6a6a" stroke="none" stroke-width="1" />
<g clip-path="url(#c9)">
<rect x="395.80" y="528.80" width="14.20" height="6.40" rx="3.97" ry="3.20" fill="#181818" filter="url(#b1)"/>
<rect x="415.00" y="529.60" width="18.60" height="8.60" rx="5.33" ry="4.30" fill="#181818" filter="url(#b1)"/>
</g>
<clipPath id="c10"><rect x="445.40" y="456.20" width="44.00" height="20.20"/></clipPath>
<rect x="445.40" y="456.20" width="44.00" height="20.20" fill="#6a6a6a" stroke="none" stroke-width="1" />
<g clip-path="url(#c10)">
<rect x="446.40" y="465.60" width="15.40" height="4.80" rx="2.98" ry="2.40" fill="#222" filter="url(#b1)"/>
<rect x="465.60" y="460.40" width="19.40" height="20.60" rx="5.50" ry="5.50" fill="#161616" filter="url(#b1)"/>
</g>
<clipPath id="c11"><rect x="445.40" y="490.60" width="44.20" height="24.20"/></clipPath>
<rect x="445.40" y="490.60" width="44.20" height="24.20" fill="#656565" stroke="none" stroke-width="1" />
<g clip-path="url(#c11)">
<rect x="447.40" y="497.30" width="18.60" height="10.00" rx="6.20" ry="5.00" fill="#181818" filter="url(#b1)"/>
<rect x="469.60" y="497.30" width="18.60" height="8.50" rx="5.27" ry="4.25" fill="#181818" filter="url(#b1)"/>
</g>
<clipPath id="c12"><rect x="445.40" y="522.40" width="44.20" height="24.10"/></clipPath>
<rect x="445.40" y="522.40" width="44.20" height="24.10" fill="#656565" stroke="none" stroke-width="1" />
<g clip-path="url(#c12)">
<rect x="446.40" y="529.00" width="19.60" height="10.60" rx="6.57" ry="5.30" fill="#181818" filter="url(#b1)"/>
<rect x="468.60" y="528.20" width="20.60" height="10.60" rx="6.57" ry="5.30" fill="#181818" filter="url(#b1)"/>
</g>
<text x="492.70" y="467.80" font-size="11.3" text-anchor="start" fill="#000" font-weight="bold" stroke="#000" stroke-width="0.3" textLength="27.30" lengthAdjust="spacingAndGlyphs">95 kDa</text>
<text x="492.70" y="502.90" font-size="11.3" text-anchor="start" fill="#000" font-weight="bold" stroke="#000" stroke-width="0.3" textLength="27.30" lengthAdjust="spacingAndGlyphs">60 kDa</text>
<text x="492.70" y="539.20" font-size="11.3" text-anchor="start" fill="#000" font-weight="bold" stroke="#000" stroke-width="0.3" textLength="27.30" lengthAdjust="spacingAndGlyphs">42 kDa</text>
<text x="251.60" y="650.20" font-size="7.7" text-anchor="start" fill="#000" font-weight="bold" stroke="#000" stroke-width="0.42" textLength="73.60" lengthAdjust="spacingAndGlyphs" transform="rotate(-90 251.60 650.20)">Ratio of P-GR/β-actin</text>
<line x1="270.90" y1="575.80" x2="270.90" y2="650.50" stroke="#7c7c7c" stroke-width="1.25" />
<line x1="268.40" y1="650.50" x2="375.00" y2="650.50" stroke="#7c7c7c" stroke-width="1.25" />
<line x1="322.80" y1="650.50" x2="322.80" y2="653.50" stroke="#7c7c7c" stroke-width="1.25" />
<line x1="375.00" y1="650.50" x2="375.00" y2="653.50" stroke="#7c7c7c" stroke-width="1.25" />
<text x="265.50" y="652.70" font-size="6.3" text-anchor="end" fill="#000" font-weight="bold" stroke="#000" stroke-width="0.42">0</text>
<line x1="268.40" y1="631.80" x2="270.90" y2="631.80" stroke="#7c7c7c" stroke-width="1.25" />
<text x="265.50" y="634.00" font-size="6.3" text-anchor="end" fill="#000" font-weight="bold" stroke="#000" stroke-width="0.42">0.5</text>
<line x1="268.40" y1="613.10" x2="270.90" y2="613.10" stroke="#7c7c7c" stroke-width="1.25" />
<text x="265.50" y="615.30" font-size="6.3" text-anchor="end" fill="#000" font-weight="bold" stroke="#000" stroke-width="0.42">1</text>
<line x1="268.40" y1="594.40" x2="270.90" y2="594.40" stroke="#7c7c7c" stroke-width="1.25" />
<text x="265.50" y="596.60" font-size="6.3" text-anchor="end" fill="#000" font-weight="bold" stroke="#000" stroke-width="0.42">1.5</text>
<line x1="268.40" y1="575.70" x2="270.90" y2="575.70" stroke="#7c7c7c" stroke-width="1.25" />
<text x="265.50" y="577.90" font-size="6.3" text-anchor="end" fill="#000" font-weight="bold" stroke="#000" stroke-width="0.42">2</text>
<line x1="296.20" y1="616.40" x2="348.20" y2="585.30" stroke="#000" stroke-width="1.5" />
<line x1="296.20" y1="630.60" x2="348.20" y2="597.40" stroke="#000" stroke-width="1.5" />
<line x1="296.20" y1="625.70" x2="348.20" y2="614.70" stroke="#000" stroke-width="1.5" />
<line x1="296.20" y1="645.30" x2="348.20" y2="625.10" stroke="#000" stroke-width="1.5" />
<polygon points="296.20,612.70 292.60,619.20 299.80,619.20" fill="#000"/>
<polygon points="348.20,581.60 344.60,588.10 351.80,588.10" fill="#000"/>
<line x1="293.20" y1="627.60" x2="299.20" y2="633.60" stroke="#000" stroke-width="1.3" />
<line x1="293.20" y1="633.60" x2="299.20" y2="627.60" stroke="#000" stroke-width="1.3" />
<line x1="345.20" y1="594.40" x2="351.20" y2="600.40" stroke="#000" stroke-width="1.3" />
<line x1="345.20" y1="600.40" x2="351.20" y2="594.40" stroke="#000" stroke-width="1.3" />
<polygon points="296.20,622.50 293.00,625.70 296.20,628.90 299.40,625.70" fill="#000"/>
<polygon points="348.20,611.50 345.00,614.70 348.20,617.90 351.40,614.70" fill="#000"/>
<rect x="293.10" y="642.20" width="6.20" height="6.20" fill="#000" stroke="none" stroke-width="1" />
<rect x="345.10" y="622.00" width="6.20" height="6.20" fill="#000" stroke="none" stroke-width="1" />
<line x1="299.50" y1="575.80" x2="342.40" y2="575.80" stroke="#000" stroke-width="1.6" />
<polygon points="293.30,575.80 300.50,572.30 300.50,579.30" fill="#000"/>
<polygon points="348.60,575.80 341.40,572.30 341.40,579.30" fill="#000"/>
<text x="322.60" y="576.70" font-size="13.5" text-anchor="middle" fill="#000" font-weight="bold" stroke="#000" stroke-width="0.2">*</text>
<text x="278.90" y="666.70" font-size="11.5" text-anchor="start" fill="#000" font-weight="bold" stroke="#000" stroke-width="0.42" textLength="35.50" lengthAdjust="spacingAndGlyphs">Control</text>
<text x="338.00" y="666.70" font-size="11.5" text-anchor="start" fill="#000" font-weight="bold" stroke="#000" stroke-width="0.42" textLength="20.50" lengthAdjust="spacingAndGlyphs">DEX</text>
<text x="390.40" y="656.00" font-size="7.7" text-anchor="start" fill="#000" font-weight="bold" stroke="#000" stroke-width="0.42" textLength="70.20" lengthAdjust="spacingAndGlyphs" transform="rotate(-90 390.40 656.00)">Ratio of PKM2/β-actin</text>
<line x1="418.50" y1="576.60" x2="418.50" y2="651.60" stroke="#7c7c7c" stroke-width="1.25" />
<line x1="416.00" y1="651.60" x2="513.40" y2="651.60" stroke="#7c7c7c" stroke-width="1.25" />
<line x1="466.00" y1="651.60" x2="466.00" y2="654.60" stroke="#7c7c7c" stroke-width="1.25" />
<line x1="513.40" y1="651.60" x2="513.40" y2="654.60" stroke="#7c7c7c" stroke-width="1.25" />
<text x="412.50" y="653.80" font-size="6.3" text-anchor="end" fill="#000" font-weight="bold" stroke="#000" stroke-width="0.42">0</text>
<line x1="416.00" y1="640.89" x2="418.50" y2="640.89" stroke="#7c7c7c" stroke-width="1.25" />
<text x="412.50" y="643.09" font-size="6.3" text-anchor="end" fill="#000" font-weight="bold" stroke="#000" stroke-width="0.42">0.2</text>
<line x1="416.00" y1="630.18" x2="418.50" y2="630.18" stroke="#7c7c7c" stroke-width="1.25" />
<text x="412.50" y="632.38" font-size="6.3" text-anchor="end" fill="#000" font-weight="bold" stroke="#000" stroke-width="0.42">0.4</text>
<line x1="416.00" y1="619.47" x2="418.50" y2="619.47" stroke="#7c7c7c" stroke-width="1.25" />
<text x="412.50" y="621.67" font-size="6.3" text-anchor="end" fill="#000" font-weight="bold" stroke="#000" stroke-width="0.42">0.6</text>
<line x1="416.00" y1="608.76" x2="418.50" y2="608.76" stroke="#7c7c7c" stroke-width="1.25" />
<text x="412.50" y="610.96" font-size="6.3" text-anchor="end" fill="#000" font-weight="bold" stroke="#000" stroke-width="0.42">0.8</text>
<line x1="416.00" y1="598.05" x2="418.50" y2="598.05" stroke="#7c7c7c" stroke-width="1.25" />
<text x="412.50" y="600.25" font-size="6.3" text-anchor="end" fill="#000" font-weight="bold" stroke="#000" stroke-width="0.42">1</text>
<line x1="416.00" y1="587.34" x2="418.50" y2="587.34" stroke="#7c7c7c" stroke-width="1.25" />
<text x="412.50" y="589.54" font-size="6.3" text-anchor="end" fill="#000" font-weight="bold" stroke="#000" stroke-width="0.42">1.2</text>
<line x1="416.00" y1="576.63" x2="418.50" y2="576.63" stroke="#7c7c7c" stroke-width="1.25" />
<text x="412.50" y="578.83" font-size="6.3" text-anchor="end" fill="#000" font-weight="bold" stroke="#000" stroke-width="0.42">1.4</text>
<line x1="441.50" y1="587.30" x2="489.10" y2="592.80" stroke="#000" stroke-width="1.5" />
<line x1="441.50" y1="596.20" x2="489.10" y2="608.00" stroke="#000" stroke-width="1.5" />
<line x1="441.50" y1="599.70" x2="489.10" y2="632.90" stroke="#000" stroke-width="1.5" />
<rect x="438.40" y="584.20" width="6.20" height="6.20" fill="#000" stroke="none" stroke-width="1" />
<rect x="486.00" y="589.70" width="6.20" height="6.20" fill="#000" stroke="none" stroke-width="1" />
<line x1="438.50" y1="593.20" x2="444.50" y2="599.20" stroke="#000" stroke-width="1.3" />
<line x1="438.50" y1="599.20" x2="444.50" y2="593.20" stroke="#000" stroke-width="1.3" />
<line x1="486.10" y1="605.00" x2="492.10" y2="611.00" stroke="#000" stroke-width="1.3" />
<line x1="486.10" y1="611.00" x2="492.10" y2="605.00" stroke="#000" stroke-width="1.3" />
<polygon points="441.50,596.00 437.90,602.50 445.10,602.50" fill="#000"/>
<polygon points="489.10,629.20 485.50,635.70 492.70,635.70" fill="#000"/>
<line x1="443.90" y1="575.50" x2="488.20" y2="575.50" stroke="#000" stroke-width="1.6" />
<polygon points="437.70,575.50 444.90,572.00 444.90,579.00" fill="#000"/>
<polygon points="494.40,575.50 487.20,572.00 487.20,579.00" fill="#000"/>
<text x="466.60" y="576.20" font-size="13.5" text-anchor="middle" fill="#000" font-weight="bold" stroke="#000" stroke-width="0.2">*</text>
<text x="423.40" y="667.50" font-size="11.5" text-anchor="start" fill="#000" font-weight="bold" stroke="#000" stroke-width="0.42" textLength="36.60" lengthAdjust="spacingAndGlyphs">Control</text>
<text x="479.00" y="667.50" font-size="11.5" text-anchor="start" fill="#000" font-weight="bold" stroke="#000" stroke-width="0.42" textLength="20.80" lengthAdjust="spacingAndGlyphs">DEX</text>
</svg>
</body>
</html>
